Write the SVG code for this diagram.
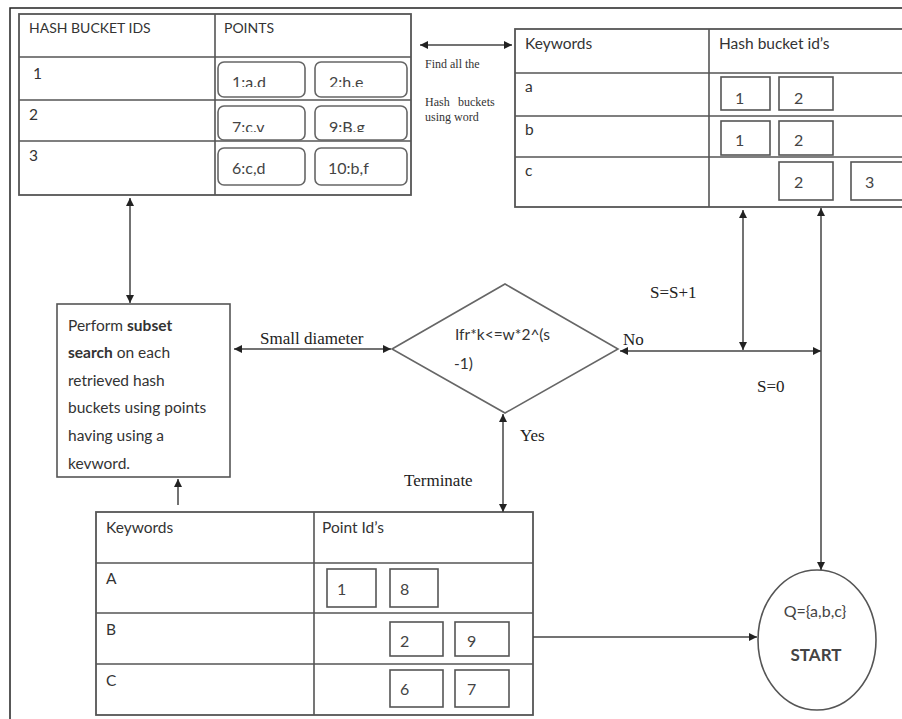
<svg xmlns="http://www.w3.org/2000/svg" width="902" height="719" viewBox="0 0 902 719">
<style>
.frame{fill:none;stroke:#222;stroke-width:1.5}
.tbl{fill:#fff;stroke:#555;stroke-width:1.8}
.ln{stroke:#555;stroke-width:1.6;fill:none}
.box{fill:#fff;stroke:#555;stroke-width:1.6}
.rbox{fill:#fff;stroke:#666;stroke-width:1.6}
.t{font-family:Lato,"Liberation Sans",sans-serif;font-size:15.5px;fill:#333}
.th{font-family:Lato,"Liberation Sans",sans-serif;font-size:14px;fill:#333}
.tb{font-family:Lato,"Liberation Sans",sans-serif;font-size:16px;fill:#444}
.s{font-family:"Liberation Serif",serif;font-size:17px;fill:#222}
.ss{font-family:"Liberation Serif",serif;font-size:12px;fill:#333}
.c{stroke:#444;stroke-width:1.5;fill:none;marker-end:url(#ah);marker-start:url(#ah)}
.c1{stroke:#444;stroke-width:1.5;fill:none;marker-end:url(#ah)}
</style>
<defs>
<marker id="ah" viewBox="0 0 10 10" refX="10" refY="5" markerWidth="8" markerHeight="8" markerUnits="userSpaceOnUse" orient="auto-start-reverse">
<path d="M0,0 L10,5 L0,10 z" fill="#222"/>
</marker>
<clipPath id="cr1"><rect x="215" y="58" width="200" height="29"/></clipPath>
<clipPath id="cr2"><rect x="215" y="102" width="200" height="30"/></clipPath>
</defs>
<rect width="902" height="719" fill="#fff"/>
<path class="frame" d="M10,719 V8 H902"/>

<g id="hash-bucket-table">
<rect class="tbl" x="19" y="14" width="392" height="181"/>
<path class="ln" d="M215,14 V195 M19,57 H411 M19,100 H411 M19,141 H411"/>
<text class="th" x="29" y="33">HASH BUCKET IDS</text>
<text class="th" x="224" y="33">POINTS</text>
<text class="t" x="33" y="79">1</text>
<text class="t" x="29" y="120">2</text>
<text class="t" x="29" y="161">3</text>
<rect class="rbox" x="218" y="62" width="87" height="35" rx="6"/>
<rect class="rbox" x="315" y="62" width="92" height="35" rx="6"/>
<rect class="rbox" x="218" y="106" width="87" height="34" rx="6"/>
<rect class="rbox" x="315" y="106" width="92" height="34" rx="6"/>
<rect class="rbox" x="218" y="148" width="87" height="37" rx="6"/>
<rect class="rbox" x="315" y="148" width="92" height="37" rx="6"/>
<g clip-path="url(#cr1)">
<text class="tb" x="232" y="88">1:a.d</text>
<text class="tb" x="329" y="88">2:h.e</text>
</g>
<g clip-path="url(#cr2)">
<text class="tb" x="232" y="133">7:c.v</text>
<text class="tb" x="329" y="133">9:B.g</text>
</g>
<text class="tb" x="232" y="174">6:c,d</text>
<text class="tb" x="328" y="174">10:b,f</text>
</g>

<g id="find-label">
<text class="ss" x="425" y="68">Find all the</text>
<text class="ss" x="425" y="106">Hash</text>
<text class="ss" x="458" y="106">buckets</text>
<text class="ss" x="425" y="121">using word</text>
</g>

<g id="keyword-bucket-table">
<rect class="tbl" x="515" y="29" width="392" height="178"/>
<path class="ln" d="M709,29 V207 M515,73 H907 M515,116 H907 M515,157 H907"/>
<text class="t" x="525" y="49">Keywords</text>
<text class="t" x="719" y="49">Hash bucket id’s</text>
<text class="t" x="525" y="92">a</text>
<text class="t" x="525" y="135">b</text>
<text class="t" x="525" y="176">c</text>
<rect class="box" x="721" y="77" width="49" height="33"/>
<rect class="box" x="779" y="77" width="54" height="33"/>
<rect class="box" x="721" y="121" width="49" height="34"/>
<rect class="box" x="779" y="121" width="54" height="34"/>
<rect class="box" x="779" y="162" width="54" height="38"/>
<rect class="box" x="851" y="162" width="54" height="38"/>
<text class="tb" x="735" y="104">1</text>
<text class="tb" x="794" y="104">2</text>
<text class="tb" x="735" y="146">1</text>
<text class="tb" x="794" y="146">2</text>
<text class="tb" x="794" y="188">2</text>
<text class="tb" x="865" y="188">3</text>
</g>

<g id="subset-search">
<rect class="box" x="57" y="304" width="173" height="173"/>
<text class="t" x="68" y="331">Perform <tspan font-weight="bold">subset</tspan></text>
<text class="t" x="68" y="358"><tspan font-weight="bold">search</tspan> on each</text>
<text class="t" x="68" y="386">retrieved hash</text>
<text class="t" x="68" y="413">buckets using points</text>
<text class="t" x="68" y="441">having using a</text>
<text class="t" x="68" y="469">kevword.</text>
</g>

<g id="condition">
<path d="M392,349 L505,284 L618,349 L505,413 Z" fill="#fff" stroke="#666" stroke-width="1.6"/>
<text class="t" x="455" y="340">Ifr*k&lt;=w*2^(s</text>
<text class="t" x="454" y="369">-1)</text>
</g>

<g id="point-table">
<rect class="tbl" x="96" y="512" width="437" height="203"/>
<path class="ln" d="M314,512 V715 M96,563 H533 M96,613 H533 M96,664 H533"/>
<text class="t" x="106" y="533">Keywords</text>
<text class="t" x="322" y="533">Point Id’s</text>
<text class="t" x="106" y="584">A</text>
<text class="t" x="106" y="635">B</text>
<text class="t" x="106" y="686">C</text>
<rect class="box" x="327" y="569" width="49" height="38"/>
<rect class="box" x="390" y="569" width="48" height="38"/>
<rect class="box" x="390" y="622" width="53" height="34"/>
<rect class="box" x="455" y="622" width="54" height="34"/>
<rect class="box" x="390" y="670" width="53" height="37"/>
<rect class="box" x="455" y="670" width="54" height="37"/>
<text class="tb" x="337" y="595">1</text>
<text class="tb" x="400" y="595">8</text>
<text class="tb" x="400" y="647">2</text>
<text class="tb" x="467" y="647">9</text>
<text class="tb" x="400" y="695">6</text>
<text class="tb" x="467" y="695">7</text>
</g>

<g id="start">
<ellipse cx="817" cy="640" rx="59" ry="70" fill="#fff" stroke="#555" stroke-width="1.6"/>
<text class="tb" x="815" y="617" text-anchor="middle">Q={a,b,c}</text>
<text class="tb" x="816" y="661" text-anchor="middle" font-weight="bold" style="font-size:17px">START</text>
</g>

<g id="connectors">
<line class="c" x1="420" y1="45" x2="512" y2="45"/>
<line class="c" x1="130" y1="198" x2="130" y2="303"/>
<line class="c" x1="234" y1="349" x2="391" y2="349"/>
<line class="c" x1="620" y1="351" x2="821" y2="351"/>
<line class="c" x1="743" y1="210" x2="743" y2="350"/>
<line class="c" x1="821" y1="208" x2="821" y2="570"/>
<line class="c" x1="503" y1="414" x2="503" y2="512"/>
<line class="c1" x1="178" y1="505" x2="178" y2="479"/>
<line class="c1" x1="533" y1="637" x2="757" y2="637"/>
<text class="s" x="260" y="344">Small diameter</text>
<text class="s" x="623" y="345">No</text>
<text class="s" x="650" y="298">S=S+1</text>
<text class="s" x="757" y="392">S=0</text>
<text class="s" x="520" y="441">Yes</text>
<text class="s" x="404" y="486">Terminate</text>
</g>
</svg>
